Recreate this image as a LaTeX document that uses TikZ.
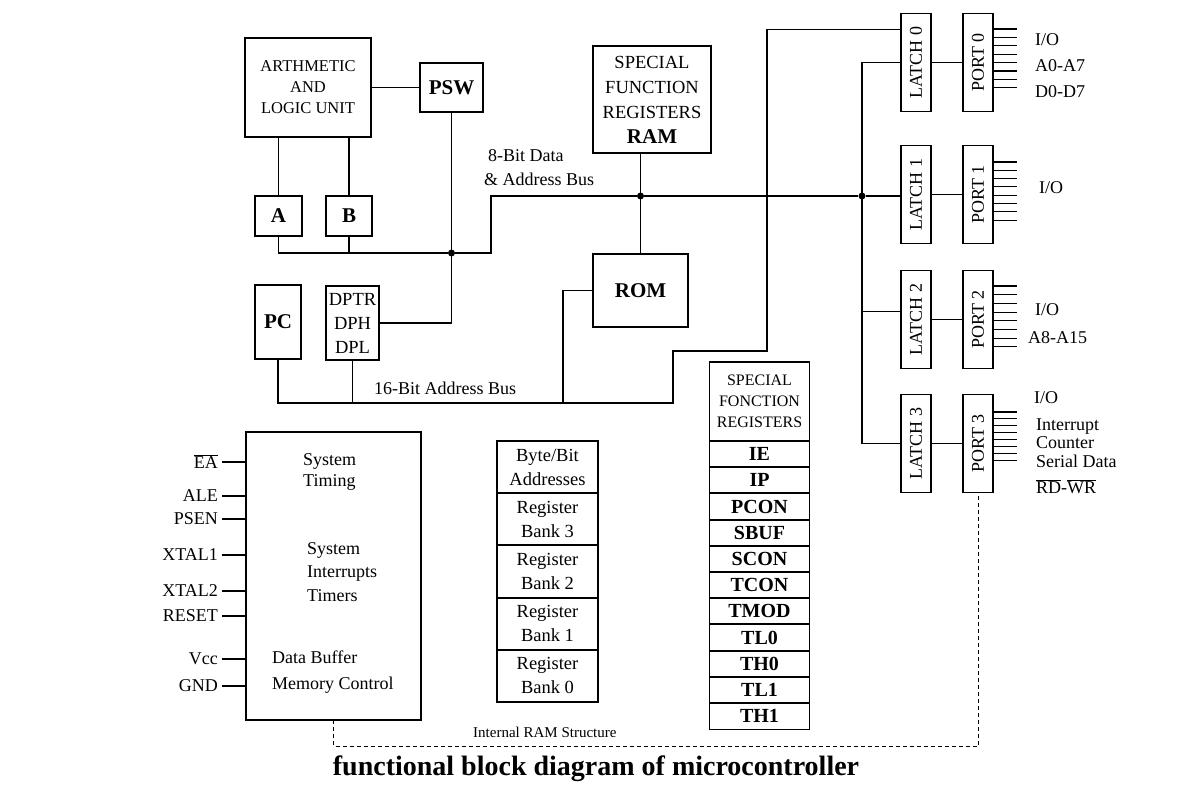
\documentclass[tikz,border=0pt]{standalone}
\usepackage{fontspec}
\setmainfont{Liberation Serif}
\usepackage{graphicx}
\usetikzlibrary{positioning}
\newcommand\dtxt{\fontsize{18}{22}\selectfont}
\newcommand\dbold{\fontsize{21}{24}\selectfont\bfseries}
\tikzset{
  blok/.style={rectangle, draw, line width=1.1pt, inner sep=0pt, outer sep=0pt, align=center, font=\dtxt},
  regbox/.style={blok, font=\dbold},
  latchbox/.style={blok, minimum width=30pt, minimum height=98pt},
  ramcell/.style={blok, font=\fontsize{18.5}{24}\selectfont, minimum width=101pt, minimum height=52.2pt},
  sfrcell/.style={blok, font=\fontsize{20}{22}\selectfont\bfseries, minimum width=100pt, minimum height=26.2pt},
  lbl/.style={inner sep=0pt, font=\dtxt, align=left},
  wire/.style={line width=1.1pt},
  rowsep/.style={line width=2pt},
  junc/.style={circle, fill, inner sep=0pt, minimum size=7pt},
  memdash/.style={line width=0.9pt, dash pattern=on 4pt off 3pt},
}

\begin{document}
\begin{tikzpicture}[x=1pt, y=-1pt]
    \useasboundingbox (0,0) rectangle (1177,791);
    % CPU core
    \node[blok, font=\fontsize{16.5}{21}\selectfont, minimum width=126pt, minimum height=99pt] (alu) at (308,87.5) {ARTHMETIC\\AND\\LOGIC UNIT};
    \node[regbox, minimum width=63pt, minimum height=49pt] (psw) at (451.5,87.5) {PSW};
    \node[regbox, minimum width=47pt, minimum height=40pt] (rega) at (278.5,216) {A};
    \node[regbox, minimum width=46pt, minimum height=40pt] (regb) at (349,216) {B};
    \node[regbox, minimum width=46pt, minimum height=74pt] (pc) at (278,322) {PC};
    \node[blok, font=\fontsize{18.5}{24}\selectfont, minimum width=53pt, minimum height=74pt] (dptr) at (352.5,323) {DPTR\\DPH\\DPL};
    % Memory
    \node[blok, font=\fontsize{18.5}{25}\selectfont, minimum width=118pt, minimum height=107pt] (sfrram) at (652,99.5) {SPECIAL\\FUNCTION\\REGISTERS\\{\dbold RAM}};
    \node[regbox, minimum width=95pt, minimum height=73pt] (rom) at (640.5,290.5) {ROM};
    % Latches and ports
    \node[latchbox] (latch0) at (916,62.5) {\rotatebox{90}{LATCH 0}};
    \node[latchbox, right=32pt of latch0] (port0) {\rotatebox{90}{PORT 0}};
    \node[latchbox] (latch1) at (916,194.5) {\rotatebox{90}{LATCH 1}};
    \node[latchbox, right=32pt of latch1] (port1) {\rotatebox{90}{PORT 1}};
    \node[latchbox] (latch2) at (916,319.5) {\rotatebox{90}{LATCH 2}};
    \node[latchbox, right=32pt of latch2] (port2) {\rotatebox{90}{PORT 2}};
    \node[latchbox] (latch3) at (916,443.5) {\rotatebox{90}{LATCH 3}};
    \node[latchbox, right=32pt of latch3] (port3) {\rotatebox{90}{PORT 3}};
    % Port lines
    \node[lbl, anchor=west, font=\fontsize{18}{26}\selectfont] (p0txt) at (1035,66) {I/O\\A0-A7\\D0-D7};
    \node[lbl, anchor=west] (p1txt) at (1039,188) {I/O};
    \node[lbl, anchor=west] (p2io) at (1035,310) {I/O};
    \node[lbl, anchor=west] (p2adr) at (1028,338) {A8-A15};
    \node[lbl, anchor=west] (p3io) at (1034,398) {I/O};
    \node[lbl, anchor=west, font=\fontsize{18}{18.5}\selectfont] (p3fn) at (1036,443) {Interrupt\\Counter\\Serial Data};
    \node[lbl, anchor=west] (p3rw) at (1036,487) {$\overline{\mbox{RD}}$-$\overline{\mbox{WR}}$};
    % Control block
    \node[blok, minimum width=175pt, minimum height=288pt] (sys) at (333.5,576) {};
    \node[lbl, anchor=west, font=\fontsize{18}{21}\selectfont] (systim) at (303,472) {System\\Timing};
    \node[lbl, anchor=west, font=\fontsize{18}{23.5}\selectfont] (sysint) at (307,572) {System\\Interrupts\\Timers};
    \node[lbl, anchor=west, font=\fontsize{18}{26}\selectfont] (sysbuf) at (272,672) {Data Buffer\\Memory Control};
    % Internal RAM structure
    \node[ramcell] (ram0) at (547.5,467.1) {Byte/Bit\\Addresses};
    \node[ramcell, below=0pt of ram0] (ram1) {Register\\Bank 3};
    \node[ramcell, below=0pt of ram1] (ram2) {Register\\Bank 2};
    \node[ramcell, below=0pt of ram2] (ram3) {Register\\Bank 1};
    \node[ramcell, below=0pt of ram3] (ram4) {Register\\Bank 0};
    % SFR table
    \node[blok, font=\fontsize{16}{21}\selectfont, minimum width=100pt, minimum height=79pt] (sfr0) at (759.5,401.5) {SPECIAL\\FONCTION\\REGISTERS};
    \node[sfrcell, below=0pt of sfr0] (sfr1) {IE};
    \node[sfrcell, below=0pt of sfr1] (sfr2) {IP};
    \node[sfrcell, below=0pt of sfr2] (sfr3) {PCON};
    \node[sfrcell, below=0pt of sfr3] (sfr4) {SBUF};
    \node[sfrcell, below=0pt of sfr4] (sfr5) {SCON};
    \node[sfrcell, below=0pt of sfr5] (sfr6) {TCON};
    \node[sfrcell, below=0pt of sfr6] (sfr7) {TMOD};
    \node[sfrcell, below=0pt of sfr7] (sfr8) {TL0};
    \node[sfrcell, below=0pt of sfr8] (sfr9) {TH0};
    \node[sfrcell, below=0pt of sfr9] (sfr10) {TL1};
    \node[sfrcell, below=0pt of sfr10] (sfr11) {TH1};
    \foreach \n in {0,...,3} \draw[rowsep] (ram\n.south west) -- (ram\n.south east);
    \foreach \n in {0,...,10} \draw[rowsep] (sfr\n.south west) -- (sfr\n.south east);
    % Bus labels
    \node[lbl, anchor=west, font=\fontsize{18}{24}\selectfont] (lbl8) at (484,168) {\hspace*{4pt}8-Bit Data\\\& Address Bus};
    \node[lbl, anchor=west] (lbl16) at (374,388) {16-Bit Address Bus};
    \node[lbl, anchor=west, font=\fontsize{15}{18}\selectfont] (lblram) at (473,732) {Internal RAM Structure};
    \node[inner sep=0pt, font=\fontsize{28}{32}\selectfont\bfseries] (title) at (596,769) {functional block diagram of microcontroller};

    % Junctions and bends
    \coordinate (bend8) at (491,253);
    \node[junc] (jacc) at (psw.south |- bend8) {};
    \node[junc] (jrom) at (640.5,196) {};
    \node[junc] (jlat) at (862,196) {};
    \coordinate (b16a) at (673,403);
    \coordinate (b16b) at (767,351);
    \coordinate (b16r) at (563,403);

    % 8-bit data bus
    \draw[wire] (alu) -- (psw);
    \draw[wire] (alu.south -| rega) -- (rega);
    \draw[wire] (alu.south -| regb) -- (regb);
    \draw[wire] (rega.south) |- (jacc);
    \draw[wire] (regb.south) -- (regb.south |- jacc);
    \draw[wire] (psw.south) |- (dptr.east);
    \draw[wire] (jacc) -- (bend8) |- (jrom) -- (jlat) -- (latch1.west |- jlat);
    \draw[wire] (rom.north) -- (rom.north |- sfrram.south);
    \draw[wire] (latch0.west) -- ++(-39,0) |- (latch3.west);
    \draw[wire] ([yshift=8pt]latch2.west) -- ++(-39,0);
    \foreach \n in {0,...,3} \draw[wire] (latch\n) -- (port\n);
    % 16-bit address bus
    \draw[wire] (pc.south) |- (b16a) |- (b16b) |- ([yshift=-16pt]latch0.north west);
    \draw[wire] (dptr.south) -- (dptr.south |- b16a);
    \draw[wire] (rom.west) -| (b16r);
    % port pins
    \foreach \p/\t/\g in {port0/29/8.4, port1/162/8.3, port2/286/8.7, port3/412/6.9}
      \foreach \k in {0,...,7}{
        \pgfmathsetmacro\py{\t+\k*\g}
        \draw[wire] (\p.east |- 0,\py) -- ++(24,0);
      }
    % control pins
    \foreach \y/\t in {462/{$\overline{\mbox{EA}}$}, 496/ALE, 519/PSEN, 555/XTAL1, 591/XTAL2, 616/RESET, 659/Vcc, 686/GND}{
      \node[lbl, anchor=east] (pin\y) at (218,\y) {\t};
      \draw[wire] (pin\y.east) ++(4,0) -- (sys.west |- pin\y.east);
    }
    \draw[memdash] (sys.south) -- (sys.south |- 0,746) -| (port3.south);
  \end{tikzpicture}
\end{document}
